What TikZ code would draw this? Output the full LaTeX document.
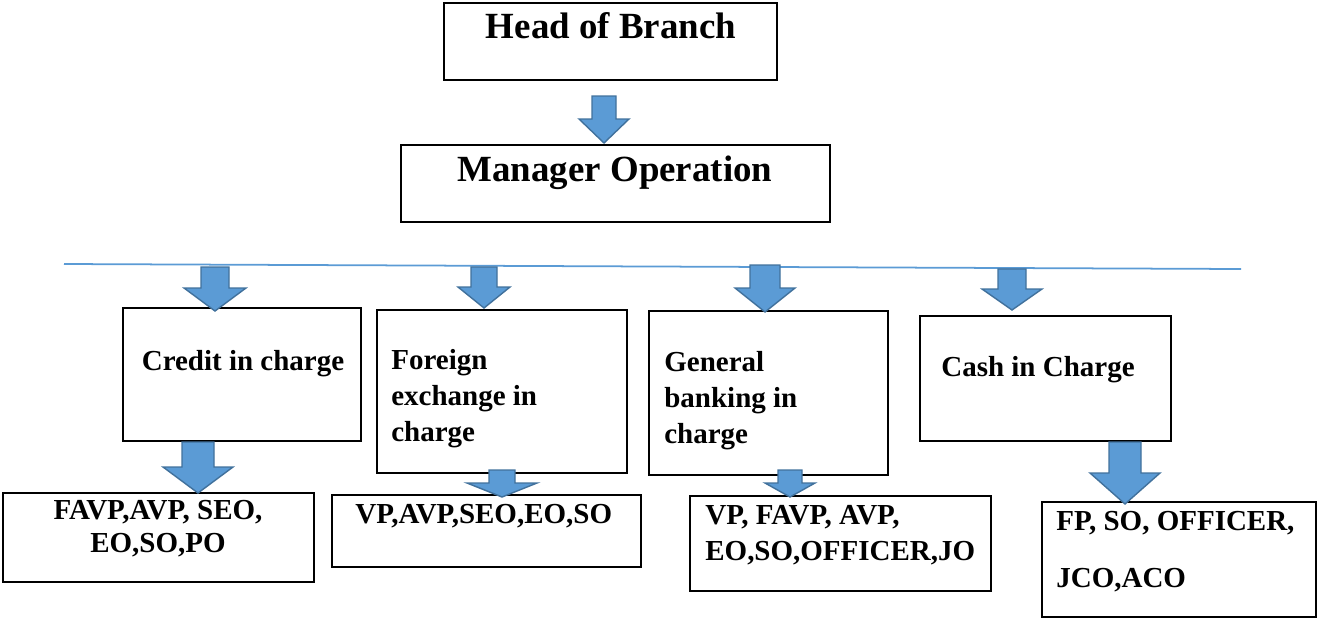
\documentclass[tikz,border=0pt]{standalone}
\usepackage{fontspec}
\setmainfont{Liberation Serif}
\usetikzlibrary{fit}
\definecolor{arrowfill}{RGB}{91,155,213}
\definecolor{arrowline}{RGB}{65,113,156}

\begin{document}
\begin{tikzpicture}[x=0.02cm, y=-0.02cm,
    box/.style={draw, line width=1.1pt, inner sep=0pt},
    bigtxt/.style={font=\bfseries\fontsize{21}{25}\selectfont, inner sep=0pt},
    midtxt/.style={font=\bfseries\fontsize{16.5}{20.5}\selectfont, inner sep=0pt},
    blockarrow/.style={fill=arrowfill, draw=arrowline, line width=0.8pt, line join=miter}]
    \useasboundingbox (0,0) rectangle (1318,619);

    % Top boxes
    \node[box, fit={(444,3) (777,80)}] (head) {};
    \node[bigtxt, anchor=base] (headtxt) at (611,38) {Head of Branch};
    \node[box, fit={(401,145) (830,222)}] (manager) {};
    \node[bigtxt, anchor=base] (managertxt) at (615,181) {Manager Operation};

    % Divider line
    \draw[arrowfill, line width=1pt] (64,264) -- (1241,269);

    % Departments
    \node[box, fit={(123,308) (361,441)}] (credit) {};
    \node[midtxt, anchor=base] (credittxt) at (243,370) {Credit in charge};
    \node[box, fit={(377,310) (627,473)}] (forex) {};
    \node[midtxt, anchor=base west, text width=5cm, align=flush left] (forextxt) at (391,369)
        {Foreign\\exchange in\\charge};
    \node[box, fit={(649,311) (888,475)}] (general) {};
    \node[midtxt, anchor=base west, text width=4.5cm, align=flush left] (generaltxt) at (664,371)
        {General\\banking in\\charge};
    \node[box, fit={(920,316) (1171,441)}] (cash) {};
    \node[midtxt, anchor=base west] (cashtxt) at (941,376) {Cash in Charge};

    % Officers
    \node[box, fit={(3,493) (314,582)}] (creditstaff) {};
    \node[midtxt, anchor=base, text width=6cm, align=flush center,
          font=\bfseries\fontsize{16.5}{19}\selectfont] (creditstafftxt) at (158,519)
        {FAVP,AVP, SEO,\\EO,SO,PO};
    \node[box, fit={(332,495) (641,567)}] (forexstaff) {};
    \node[midtxt, anchor=base west] (forexstafftxt) at (355,523) {VP,AVP,SEO,EO,SO};
    \node[box, fit={(690,496) (991,591)}] (generalstaff) {};
    \node[midtxt, anchor=base west, text width=6cm, align=flush left] (generalstafftxt) at (705,524)
        {VP, FAVP, AVP,\\EO,SO,OFFICER,JO};
    \node[box, fit={(1042,502) (1316,617)}] (cashstaff) {};
    \node[midtxt, anchor=base west, text width=5.4cm, align=flush left,
          font=\bfseries\fontsize{16.5}{32.5}\selectfont] (cashstafftxt) at (1056,530)
        {FP, SO, OFFICER,\\JCO,ACO};

    % Block arrows: centre / shaft top / head base / tip / half shaft / half head
    \foreach \cx/\ya/\yb/\yc/\sw/\hw in {604/96/119/143/12/25,
        215/267/288/311/14/31, 484/267/287/308/13/26,
        765/265/288/312/15/30, 1012/269/289/310/14/30,
        198/442/467/493/16/35, 502/470/483/497/13/35,
        790/470/483/497/12/25, 1125/442/473/504/16/35}
    \filldraw[blockarrow] (\cx-\sw,\ya) -- (\cx+\sw,\ya) -- (\cx+\sw,\yb) -- (\cx+\hw,\yb)
        -- (\cx,\yc) -- (\cx-\hw,\yb) -- (\cx-\sw,\yb) -- cycle;
\end{tikzpicture}
\end{document}
